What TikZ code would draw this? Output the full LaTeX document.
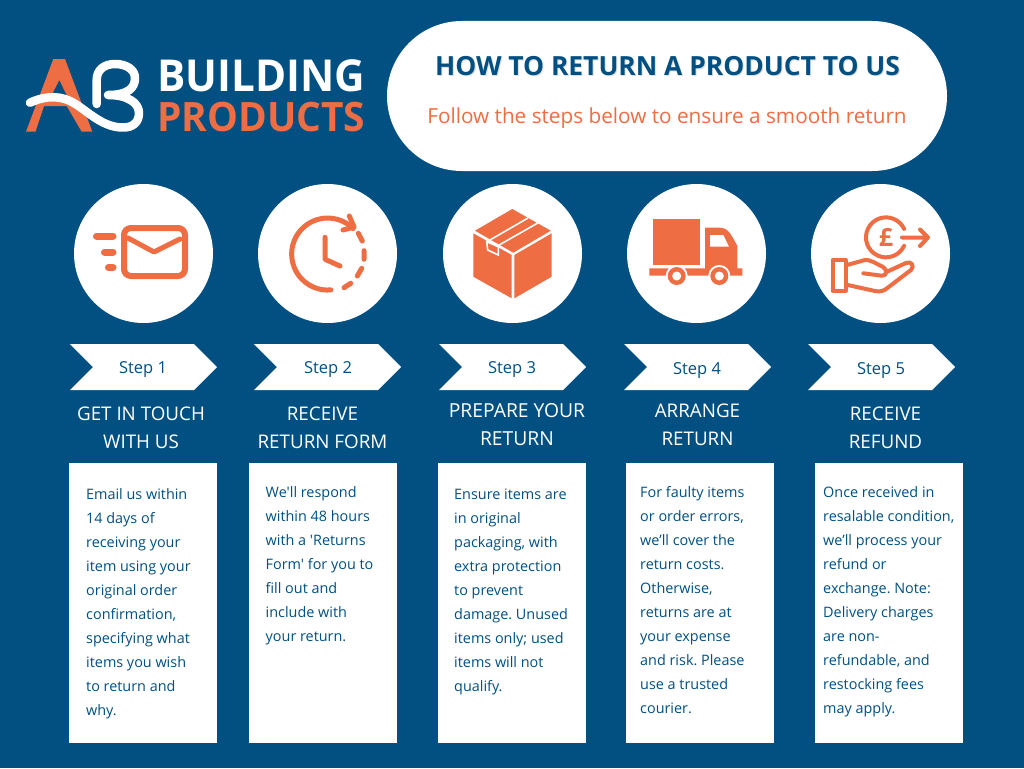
\documentclass[tikz,border=0pt]{standalone}
\usepackage{fontspec}
\setmainfont{Open Sans}[Ligatures=TeXOff]
\definecolor{navy}{HTML}{025082}
\definecolor{coral}{HTML}{EF6D43}
\definecolor{shade}{HTML}{D9DEE2}
\tikzset{
 bodytext/.style={anchor=north west,inner sep=0pt,align=left,text=navy,font=\fontsize{14.4}{24}\selectfont\frenchspacing},
 headtext/.style={anchor=center,inner sep=0pt,align=center,text=white,font=\fontsize{18.8}{28}\selectfont},
 headwide/.style={headtext,font=\fontsize{19.3}{28}\selectfont},
 steptext/.style={anchor=center,inner sep=0pt,text=navy,font=\fontsize{16.5}{20}\selectfont},
 card/.style={fill=white,draw=none},
 disc/.style={fill=white,circle,minimum size=139pt,inner sep=0pt},
 icon/.style={draw=coral,line width=5pt,line cap=round,line join=round},
}
\newcommand{\fl}{\rule{0pt}{15pt}}
\begin{document}
\begin{tikzpicture}[x=1pt,y=-1pt]
\useasboundingbox (0,0) rectangle (1024,768);
\fill[navy] (0,0) rectangle (1024,768);
% logo
\fill[coral,even odd rule] (53.3,59) -- (65,59) -- (92.3,131.7) -- (81.7,131.7) -- (66.7,106) -- (44,106) -- (35.5,131.7) -- (26,131.7) -- cycle
 (59.3,80) -- (51.7,95) -- (66.7,95) -- cycle;
\draw[white,line width=8.5pt,line cap=round,line join=round]
 (30,102.7) .. controls (40,98) and (55,94) .. (70,101) .. controls (85,108) and (100,127) .. (122,127.5)
 .. controls (133,128) and (139,122) .. (139,113) .. controls (139,103) and (128,95) .. (108,95)
 .. controls (128,95) and (135,88) .. (135,78) .. controls (135,70) and (127,64) .. (115,64)
 .. controls (104,64) and (96.7,70) .. (96.7,80) -- (96.7,104);
\node[anchor=base west,inner sep=0pt,text=white,font=\fontsize{44}{44}\selectfont\bfseries] (brand1) at (157,91.5) {\scalebox{0.958}[1]{BUILDING}};
\node[anchor=base west,inner sep=0pt,text=coral,font=\fontsize{40.5}{44}\selectfont\bfseries] (brand2) at (157,131.5) {\scalebox{0.96}[1]{PRODUCTS}};
% title
\fill[white,rounded corners=75pt] (387,21) rectangle (947,171);
\node[anchor=center,inner sep=0pt,text=shade,font=\fontsize{26.4}{30}\selectfont\bfseries] (titleshade) at (668.5,67.5) {HOW TO RETURN A PRODUCT TO US};
\node[anchor=center,inner sep=0pt,text=navy,font=\fontsize{26.4}{30}\selectfont\bfseries] (title) at (667.5,66) {HOW TO RETURN A PRODUCT TO US};
\node[anchor=center,inner sep=0pt,text=coral,font=\fontsize{20.74}{26}\selectfont] (subtitle) at (667,118) {Follow the steps below to ensure a smooth return};
% discs
\node[disc] (d1) at (143.5,253.5) {};
\node[disc] (d2) at (327.5,253.5) {};
\node[disc] (d3) at (512.5,253.5) {};
\node[disc] (d4) at (696.5,253.5) {};
\node[disc] (d5) at (880.5,253.5) {};
% envelope
\draw[icon,line width=6pt,rounded corners=7pt] (124,228) rectangle (185,276);
\draw[icon] (128,238) -- (154,252) -- (180,239);
\draw[icon,line width=7pt] (96.5,236) -- (113,236) (104.5,252) -- (113,252) (108.5,267.5) -- (113,267.5);
% clock
\draw[icon] (330.8,289.9) arc[start angle=85,end angle=315,radius=36];
\draw[icon] (349.3,216) -- (354,227) -- (343,230);
\draw[icon] (358.3,233.3) -- (362.3,241) (364,250.7) -- (364,259.3) (361.7,268.3) -- (357.3,276) (350.7,283.3) -- (344,287.7);
\draw[icon] (325,237.3) -- (325,259.3) -- (340,266);
% box
\fill[coral] (473.3,233.3) -- (511.7,255) -- (511.7,298.3) -- (473.3,276.7) -- cycle;
\fill[coral] (514.3,255) -- (551.7,233.3) -- (551.7,276.7) -- (514.3,298.3) -- cycle;
\fill[coral] (512.3,209) -- (550.7,230.7) -- (513.3,252.7) -- (475,230.7) -- cycle;
\draw[white,line width=1.6pt] (528,218) -- (487,241.7) (537.7,223) -- (498.3,245.5);
\fill[coral] (486.7,241.7) -- (498.3,246.7) -- (498.3,255) -- (487.7,250) -- cycle;
\draw[white,line width=1.6pt] (486.7,241.7) -- (487.7,250) -- (498.3,255) -- (498.3,246.7) -- cycle;
% truck
\fill[coral] (652.7,219.3) rectangle (700,265);
\fill[coral] (705,227.7) -- (720,227.7) .. controls (727,227.7) and (730,232) .. (737.3,246) -- (737.3,268.3) -- (742.3,268.3) -- (742.3,275.7) -- (649.3,275.7) -- (649.3,268.3) -- (705,268.3) -- cycle;
\fill[white] (710,235) -- (723.3,235) -- (729,246.7) -- (710,246.7) -- cycle;
\foreach \cx in {676.7,719.3} {
 \fill[white] (\cx,276) circle[radius=11];
 \fill[coral] (\cx,276) circle[radius=9];
 \fill[white] (\cx,276) circle[radius=4.5];
}
% refund icon
\draw[icon,line width=4pt] (904.1,245.8) arc[start angle=25,end angle=335,radius=20];
\node[anchor=center,inner sep=0pt,text=coral,font=\fontsize{25}{25}\selectfont\bfseries] (pound) at (886,237) {£};
\draw[icon,line width=4pt] (902,237.5) -- (928,237.5) (920,229.5) -- (928,237.5) -- (920,246);
\draw[icon,line width=4pt] (832.5,260) rectangle (845.5,290.5);
\draw[icon,line width=4pt] (847,265) -- (865,260) .. controls (870,259.5) and (875,263) .. (883,267) .. controls (888,270) and (887,276) .. (881.7,275.7) -- (863.3,273.3)
 (887,271.7) -- (906,263) .. controls (911,260.5) and (915,266) .. (911,270) -- (887.3,288) .. controls (884,291) and (880,292) .. (875,291) -- (847.7,285);
% step arrows
\foreach \cx in {70,254,439,624,808} {
 \fill[white] (\cx,344) -- ++(124,0) -- ++(23,23) -- ++(-23,23) -- ++(-124,0) -- ++(23,-23) -- cycle;
}
\node[steptext] (st1) at (143,369.5) {Step 1};
\node[steptext] (st2) at (328,369.5) {Step 2};
\node[steptext] (st3) at (512,369.5) {Step 3};
\node[steptext] (st4) at (697,370.5) {Step 4};
\node[steptext] (st5) at (881,370.5) {Step 5};
% headings
\node[headtext] (h1) at (141,428) {GET IN TOUCH\\WITH US};
\node[headtext] (h2) at (322.5,428) {RECEIVE\\RETURN FORM};
\node[headwide] (h3) at (517,425) {PREPARE YOUR\\RETURN};
\node[headtext] (h4) at (697.5,425) {ARRANGE\\RETURN};
\node[headtext] (h5) at (885.5,428) {RECEIVE\\REFUND};
% cards
\fill[card] (69,463) rectangle (217,743);
\fill[card] (249,463) rectangle (397,743);
\fill[card] (438,463) rectangle (586,743);
\fill[card] (626,463) rectangle (774,743);
\fill[card] (815,463) rectangle (963,743);
\node[bodytext] (b1) at (86,484) {\fl Email us within\\14 days of\\receiving your\\item using your\\original order\\confirmation,\\specifying what\\items you wish\\to return and\\why.};
\node[bodytext] (b2) at (265.5,482) {\fl We'll respond\\within 48 hours\\with a 'Returns\\Form' for you to\\fill out and\\include with\\your return.};
\node[bodytext] (b3) at (454,484) {\fl Ensure items are\\in original\\packaging, with\\extra protection\\to prevent\\damage. Unused\\items only; used\\items will not\\qualify.};
\node[bodytext] (b4) at (640,482) {\fl For faulty items\\or order errors,\\we’ll cover the\\return costs.\\Otherwise,\\returns are at\\your expense\\and risk. Please\\use a trusted\\courier.};
\node[bodytext] (b5) at (823,482) {\fl Once received in\\resalable condition,\\we’ll process your\\refund or\\exchange. Note:\\Delivery charges\\are non-\\refundable, and\\restocking fees\\may apply.};
\end{tikzpicture}
\end{document}
